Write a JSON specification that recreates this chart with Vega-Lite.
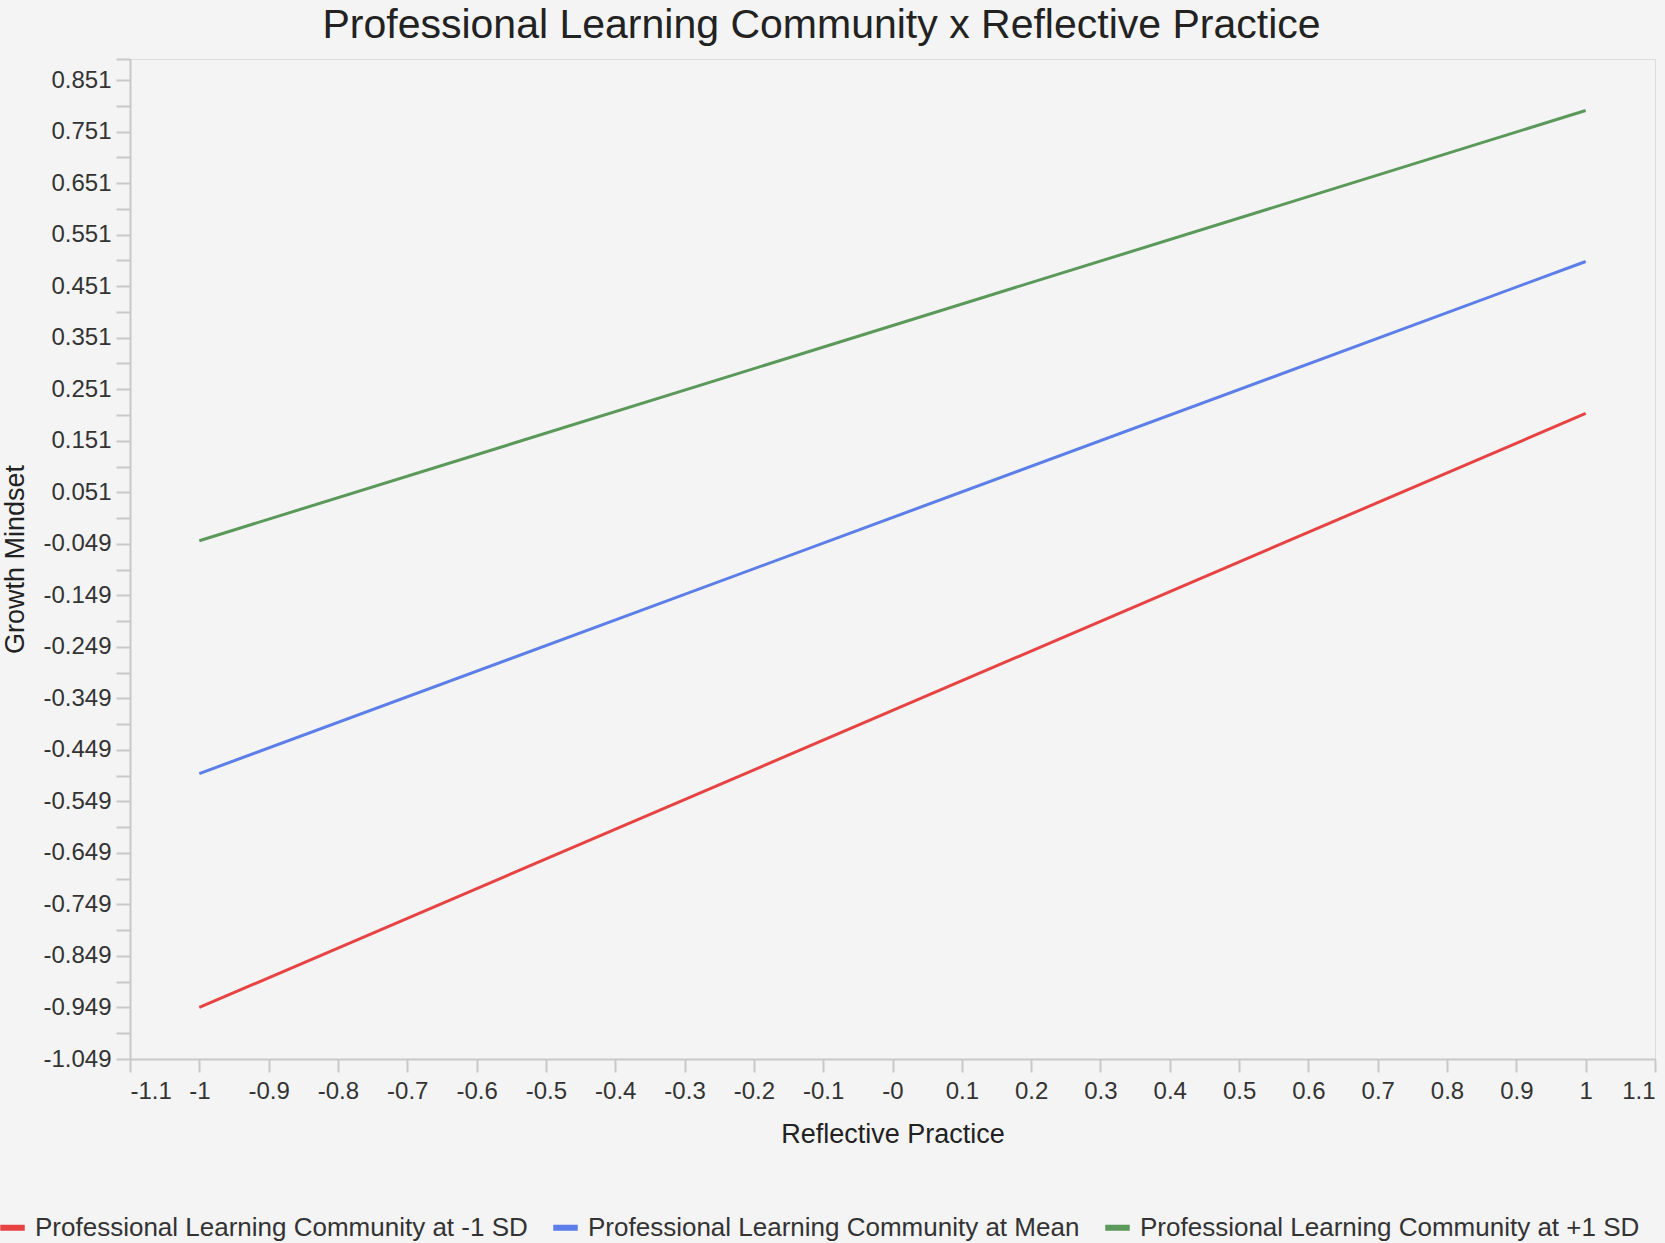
{
  "$schema": "https://vega.github.io/schema/vega-lite/v6.json",
  "width": 1525,
  "height": 1000,
  "autosize": "none",
  "padding": {"left": 130, "top": 59, "right": 10, "bottom": 184},
  "background": "#f4f4f4",
  "title": {
    "text": "Professional Learning Community x Reflective Practice",
    "fontSize": 41,
    "fontWeight": "normal",
    "font": "Liberation Sans",
    "color": "#222222",
    "anchor": "middle",
    "dx": -71,
    "offset": 11
  },
  "data": {
    "values": [
      {"rp": -1, "gm": -0.949, "group": "Professional Learning Community at -1 SD"},
      {"rp": 1, "gm": 0.204, "group": "Professional Learning Community at -1 SD"},
      {"rp": -1, "gm": -0.495, "group": "Professional Learning Community at Mean"},
      {"rp": 1, "gm": 0.499, "group": "Professional Learning Community at Mean"},
      {"rp": -1, "gm": -0.043, "group": "Professional Learning Community at +1 SD"},
      {"rp": 1, "gm": 0.792, "group": "Professional Learning Community at +1 SD"}
    ]
  },
  "mark": {"type": "line", "strokeWidth": 3},
  "encoding": {
    "x": {
      "field": "rp",
      "type": "quantitative",
      "title": "Reflective Practice",
      "scale": {"domain": [-1.1, 1.1], "nice": false, "zero": false},
      "axis": {
        "values": [-1.1, -1, -0.9, -0.8, -0.7, -0.6, -0.5, -0.4, -0.3, -0.2, -0.1, 0, 0.1, 0.2, 0.3, 0.4, 0.5, 0.6, 0.7, 0.8, 0.9, 1, 1.1],
        "labelExpr": "datum.value == 0 ? '-0' : '' + datum.value",
        "grid": false,
        "domainColor": "#c8c8c8",
        "domainWidth": 2,
        "tickColor": "#c8c8c8",
        "tickWidth": 2,
        "tickSize": 13,
        "labelFontSize": 24,
        "labelFont": "Liberation Sans",
        "labelColor": "#333333",
        "labelPadding": 7,
        "titleFontSize": 27,
        "titleFont": "Liberation Sans",
        "titleFontWeight": "normal",
        "titleColor": "#222222",
        "titlePadding": 18
      }
    },
    "y": {
      "field": "gm",
      "type": "quantitative",
      "title": "Growth Mindset",
      "scale": {"domain": [-1.049, 0.892], "nice": false, "zero": false},
      "axis": {
        "values": [-1.049, -0.999, -0.949, -0.899, -0.849, -0.799, -0.749, -0.699, -0.649, -0.599, -0.549, -0.499, -0.449, -0.399, -0.349, -0.299, -0.249, -0.199, -0.149, -0.099, -0.049, 0.001, 0.051, 0.101, 0.151, 0.201, 0.251, 0.301, 0.351, 0.401, 0.451, 0.501, 0.551, 0.601, 0.651, 0.701, 0.751, 0.801, 0.851, 0.892],
        "labelExpr": "round((datum.value + 1.049) * 20) % 2 == 0 ? '' + datum.value : ''",
        "grid": false,
        "domainColor": "#c8c8c8",
        "domainWidth": 2,
        "tickColor": "#c8c8c8",
        "tickWidth": 2,
        "tickSize": 14,
        "labelFontSize": 24,
        "labelFont": "Liberation Sans",
        "labelColor": "#333333",
        "labelPadding": 5,
        "titleFontSize": 27,
        "titleFont": "Liberation Sans",
        "titleFontWeight": "normal",
        "titleColor": "#222222",
        "titlePadding": 13
      }
    },
    "color": {
      "field": "group",
      "type": "nominal",
      "sort": ["Professional Learning Community at -1 SD", "Professional Learning Community at Mean", "Professional Learning Community at +1 SD"],
      "scale": {
        "domain": ["Professional Learning Community at -1 SD", "Professional Learning Community at Mean", "Professional Learning Community at +1 SD"],
        "range": ["#e84343", "#5b7ee9", "#5b995b"]
      },
      "legend": {
        "title": null,
        "orient": "none",
        "legendX": -133,
        "legendY": 1153,
        "direction": "horizontal",
        "symbolType": "stroke",
        "symbolSize": 600,
        "symbolStrokeWidth": 6,
        "labelFontSize": 26,
        "labelFont": "Liberation Sans",
        "labelColor": "#333333",
        "labelOffset": 7,
        "columnPadding": 13,
        "labelLimit": 1000
      }
    }
  }
}
